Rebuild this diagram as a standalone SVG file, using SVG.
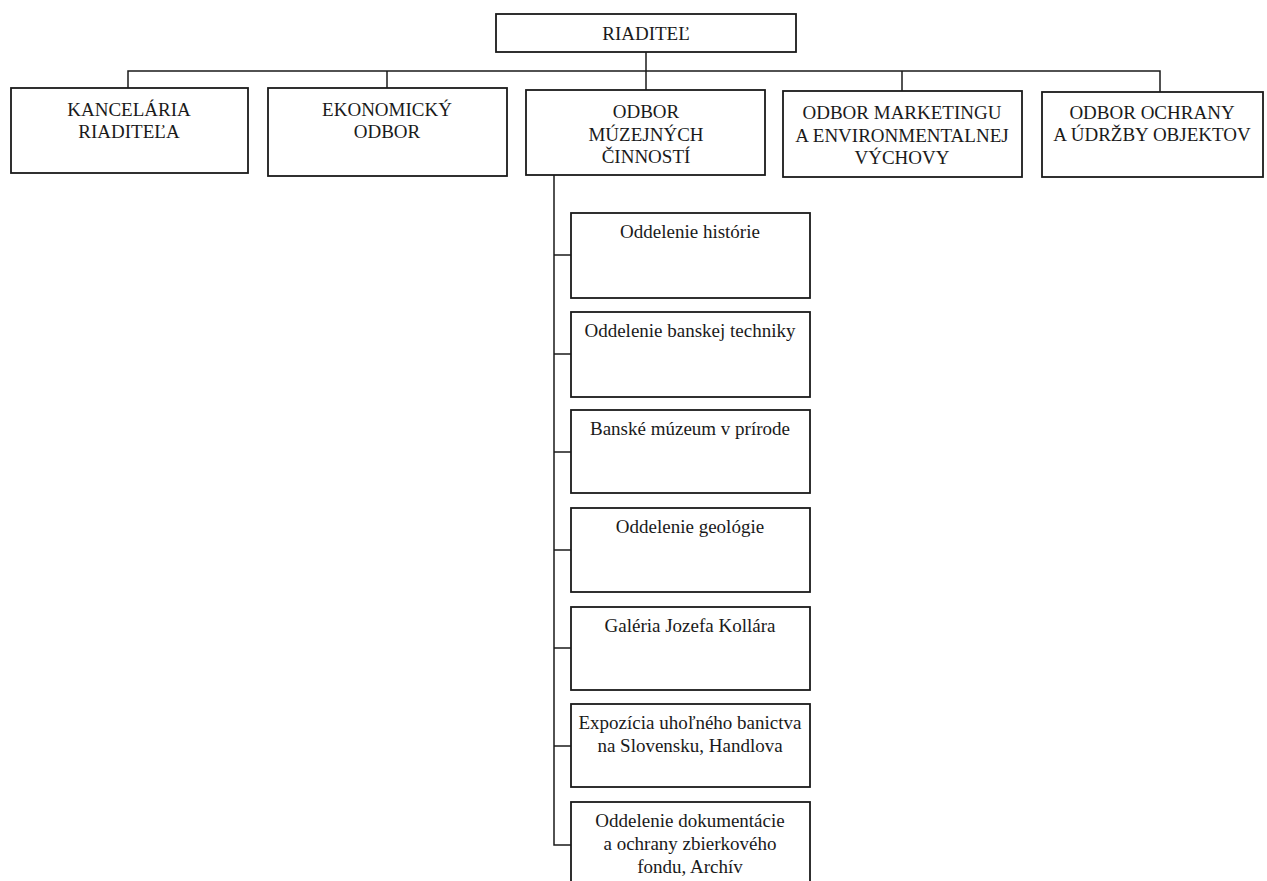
<svg xmlns="http://www.w3.org/2000/svg" width="1267" height="881" viewBox="0 0 1267 881">
<style>
.box{fill:#ffffff;stroke:#1a1a1a;stroke-width:1.8}
.t{font-family:"Liberation Serif","Times New Roman",serif;font-size:19px;fill:#1a1a1a;text-anchor:middle}
.c{fill:none;stroke:#1a1a1a;stroke-width:1.5}
</style>
<rect width="1267" height="881" fill="#ffffff"/>
<g id="connectors">
<line class="c" x1="646" y1="52" x2="646" y2="90"/>
<polyline class="c" points="128,88 128,71 1160,71 1160,92"/>
<line class="c" x1="387" y1="71" x2="387" y2="88"/>
<line class="c" x1="902" y1="71" x2="902" y2="91"/>
<polyline class="c" points="554,175 554,845 571,845"/>
<line class="c" x1="554" y1="255" x2="571" y2="255"/>
<line class="c" x1="554" y1="354" x2="571" y2="354"/>
<line class="c" x1="554" y1="452" x2="571" y2="452"/>
<line class="c" x1="554" y1="550" x2="571" y2="550"/>
<line class="c" x1="554" y1="648" x2="571" y2="648"/>
<line class="c" x1="554" y1="746" x2="571" y2="746"/>
</g>
<g id="riaditel">
<rect class="box" x="496" y="14" width="300" height="38"/>
<text class="t" x="646" y="40">RIADITEĽ</text>
</g>
<g id="kancelaria">
<rect class="box" x="11" y="88" width="237" height="85"/>
<text class="t" x="129" y="116">KANCELÁRIA</text>
<text class="t" x="129" y="138">RIADITEĽA</text>
</g>
<g id="ekonomicky">
<rect class="box" x="268" y="88" width="239" height="88"/>
<text class="t" x="387" y="116">EKONOMICKÝ</text>
<text class="t" x="387" y="138">ODBOR</text>
</g>
<g id="muzejne">
<rect class="box" x="526" y="90" width="239" height="85"/>
<text class="t" x="646" y="118">ODBOR</text>
<text class="t" x="646" y="141">MÚZEJNÝCH</text>
<text class="t" x="646" y="163">ČINNOSTÍ</text>
</g>
<g id="marketing">
<rect class="box" x="783" y="91" width="239" height="86"/>
<text class="t" x="902" y="119">ODBOR MARKETINGU</text>
<text class="t" x="902" y="142">A ENVIRONMENTALNEJ</text>
<text class="t" x="902" y="164">VÝCHOVY</text>
</g>
<g id="ochrany">
<rect class="box" x="1042" y="92" width="221" height="85"/>
<text class="t" x="1152" y="119">ODBOR OCHRANY</text>
<text class="t" x="1152" y="141">A ÚDRŽBY OBJEKTOV</text>
</g>
<g id="historia">
<rect class="box" x="571" y="213" width="239" height="85"/>
<text class="t" x="690" y="238">Oddelenie histórie</text>
</g>
<g id="banska-technika">
<rect class="box" x="571" y="312" width="239" height="85"/>
<text class="t" x="690" y="337">Oddelenie banskej techniky</text>
</g>
<g id="muzeum-v-prirode">
<rect class="box" x="571" y="410" width="239" height="83"/>
<text class="t" x="690" y="435">Banské múzeum v prírode</text>
</g>
<g id="geologia">
<rect class="box" x="571" y="508" width="239" height="84"/>
<text class="t" x="690" y="533">Oddelenie geológie</text>
</g>
<g id="galeria">
<rect class="box" x="571" y="607" width="239" height="83"/>
<text class="t" x="690" y="632">Galéria Jozefa Kollára</text>
</g>
<g id="expozicia">
<rect class="box" x="571" y="704" width="239" height="83"/>
<text class="t" x="690" y="729">Expozícia uhoľného banictva</text>
<text class="t" x="690" y="752">na Slovensku, Handlova</text>
</g>
<g id="dokumentacia">
<rect class="box" x="571" y="802" width="239" height="100"/>
<text class="t" x="690" y="827">Oddelenie dokumentácie</text>
<text class="t" x="690" y="850">a ochrany zbierkového</text>
<text class="t" x="690" y="873">fondu, Archív</text>
</g>
</svg>
